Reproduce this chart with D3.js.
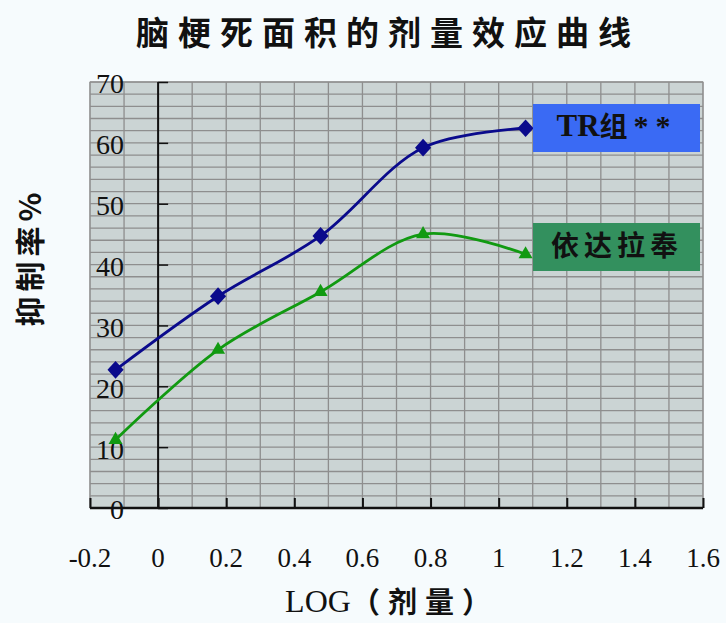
<!DOCTYPE html>
<html>
<head>
<meta charset="utf-8">
<script src="https://cdn.jsdelivr.net/npm/d3@7"></script>
<style>
  html, body { margin: 0; padding: 0; background: #f6fbfd; }
  svg { display: block; }
</style>
</head>
<body>
<svg id="chart" width="726" height="623"></svg>
<script>
// Dose (log10) on the x axis, inhibition rate (%) on the y axis
const logDose = [-0.125, 0.176, 0.477, 0.778, 1.079];
const trValues = [22.7, 34.8, 44.7, 59.2, 62.4];
const edaravoneValues = [11.2, 26.0, 35.5, 45.0, 41.7];
const seriesNames = ["TR组**", "依达拉奉"];
const xTicks = [-0.2, 0, 0.2, 0.4, 0.6, 0.8, 1, 1.2, 1.4, 1.6];
const yTicks = [0, 10, 20, 30, 40, 50, 60, 70];

const svg = d3.select("#chart");
const W = 726, H = 623;

const x = d3.scaleLinear().domain([-0.2, 1.6]).range([90, 703]);
const y = d3.scaleLinear().domain([0, 70]).range([508, 82]);

const serif = "'Liberation Serif', 'Times New Roman', serif";
const cjk = "'Noto Sans CJK SC', 'Noto Sans', sans-serif";

// page background
svg.append("rect").attr("width", W).attr("height", H).attr("fill", "#f6fbfd");

// plot area
svg.append("rect")
  .attr("x", x(-0.2)).attr("y", y(70))
  .attr("width", x(1.6) - x(-0.2)).attr("height", y(0) - y(70))
  .attr("fill", "#cbd4d4").attr("stroke", "#9a9a9a").attr("stroke-width", 1);

// grid: vertical every 0.1, horizontal every 2
const gridX = d3.range(-2, 17).map(i => i / 10);
const gridY = d3.range(0, 36).map(i => i * 2);
svg.append("g").selectAll("line").data(gridX).join("line")
  .attr("x1", d => x(d)).attr("x2", d => x(d))
  .attr("y1", y(70)).attr("y2", y(0))
  .attr("stroke", "#8e8e8e").attr("stroke-width", 1.3);
svg.append("g").selectAll("line").data(gridY).join("line")
  .attr("x1", x(-0.2)).attr("x2", x(1.6))
  .attr("y1", d => y(d)).attr("y2", d => y(d))
  .attr("stroke", "#8e8e8e").attr("stroke-width", 1.3);

// y axis at x = 0, ticks pointing right
const yAxis = d3.axisRight(y).tickValues(yTicks).tickSize(10).tickFormat("");
svg.append("g").attr("transform", `translate(${x(0)},0)`).call(yAxis)
  .call(g => g.select(".domain").attr("stroke", "#111").attr("stroke-width", 2).attr("d", `M0,${y(70)}V${y(0)}`))
  .call(g => g.selectAll(".tick line").attr("stroke", "#111").attr("stroke-width", 1.5));

// x axis at y = 0, ticks pointing up
const xAxis = d3.axisTop(x).tickValues(xTicks).tickSize(10).tickFormat("");
svg.append("g").attr("transform", `translate(0,${y(0)})`).call(xAxis)
  .call(g => g.select(".domain").attr("stroke", "#111").attr("stroke-width", 2.5).attr("d", `M${x(-0.2)},0H${x(1.6)}`))
  .call(g => g.selectAll(".tick line").attr("stroke", "#111").attr("stroke-width", 2));

// y tick labels
svg.append("g").selectAll("text").data(yTicks).join("text")
  .attr("x", 124).attr("y", d => y(d) + 5)
  .attr("text-anchor", "end").attr("dominant-baseline", "middle")
  .attr("font-family", serif).attr("font-size", 28).attr("fill", "#111")
  .text(d => d);

// x tick labels
svg.append("g").selectAll("text").data(xTicks).join("text")
  .attr("x", d => x(d)).attr("y", 567)
  .attr("text-anchor", "middle")
  .attr("font-family", serif).attr("font-size", 27).attr("fill", "#111")
  .text(d => d);

// smoothed series lines
const line = d3.line()
  .x((d, i) => x(logDose[i]))
  .y(d => y(d))
  .curve(d3.curveCatmullRom.alpha(0.5));

svg.append("path").datum(trValues).attr("d", line)
  .attr("fill", "none").attr("stroke", "#0a0a8c").attr("stroke-width", 2.8);
svg.append("path").datum(edaravoneValues).attr("d", line)
  .attr("fill", "none").attr("stroke", "#119a11").attr("stroke-width", 2.8);

// markers: square-proportioned diamonds and triangles
const rhombus = {
  draw(ctx, size) {
    const r = Math.sqrt(size / 2);
    ctx.moveTo(0, -r * 1.1); ctx.lineTo(r, 0); ctx.lineTo(0, r * 1.1); ctx.lineTo(-r, 0); ctx.closePath();
  }
};
svg.append("g").selectAll("path").data(trValues).join("path")
  .attr("transform", (d, i) => `translate(${x(logDose[i])},${y(d)})`)
  .attr("d", d3.symbol(rhombus, 130))
  .attr("fill", "#0a0a8c");
svg.append("g").selectAll("path").data(edaravoneValues).join("path")
  .attr("transform", (d, i) => `translate(${x(logDose[i])},${y(d)})`)
  .attr("d", d3.symbol(d3.symbolTriangle, 85))
  .attr("fill", "#119a11");

// series labels
const labelBoxes = [
  { name: seriesNames[0], fill: "#3a6af4", yTop: 104 },
  { name: seriesNames[1], fill: "#33905e", yTop: 223 }
];
const lb = svg.append("g").selectAll("g").data(labelBoxes).join("g");
lb.append("rect")
  .attr("x", 533).attr("y", d => d.yTop).attr("width", 167).attr("height", 48)
  .attr("fill", d => d.fill);
lb.filter((d, i) => i === 0).append("text")
  .attr("x", 617).attr("y", d => d.yTop + 25)
  .attr("text-anchor", "middle").attr("dominant-baseline", "middle")
  .attr("font-weight", "bold").attr("fill", "#111")
  .call(t => {
    t.append("tspan").attr("font-family", serif).attr("font-size", 31).text("TR");
    t.append("tspan").attr("font-family", cjk).attr("font-size", 28).text("组");
    t.append("tspan").attr("font-family", serif).attr("font-size", 30).attr("dx", 6).attr("letter-spacing", 7).text("**");
  });
lb.filter((d, i) => i === 1).append("text")
  .attr("x", 617).attr("y", d => d.yTop + 25)
  .attr("text-anchor", "middle").attr("dominant-baseline", "middle")
  .attr("font-family", cjk).attr("font-size", 28).attr("font-weight", "bold")
  .attr("letter-spacing", 5).attr("fill", "#111")
  .text(d => d.name);

// title
svg.append("text")
  .attr("x", 388).attr("y", 36)
  .attr("text-anchor", "middle").attr("dominant-baseline", "middle")
  .attr("font-family", cjk).attr("font-size", 33).attr("font-weight", "bold")
  .attr("letter-spacing", 9).attr("fill", "#111")
  .text("脑梗死面积的剂量效应曲线");

// y axis title
svg.append("text")
  .attr("transform", "translate(33,257) rotate(-90)")
  .attr("text-anchor", "middle").attr("dominant-baseline", "middle")
  .attr("font-family", cjk).attr("font-size", 30).attr("font-weight", "bold")
  .attr("letter-spacing", 5).attr("fill", "#111")
  .text("抑制率%");

// x axis title
svg.append("text")
  .attr("x", 392).attr("y", 605)
  .attr("text-anchor", "middle").attr("dominant-baseline", "middle")
  .attr("fill", "#111")
  .call(t => {
    t.append("tspan").attr("font-family", serif).attr("font-size", 32).text("LOG");
    t.append("tspan").attr("font-family", cjk).attr("font-size", 29).attr("font-weight", "bold").attr("letter-spacing", 8).text("（剂量）");
  });
</script>
</body>
</html>
